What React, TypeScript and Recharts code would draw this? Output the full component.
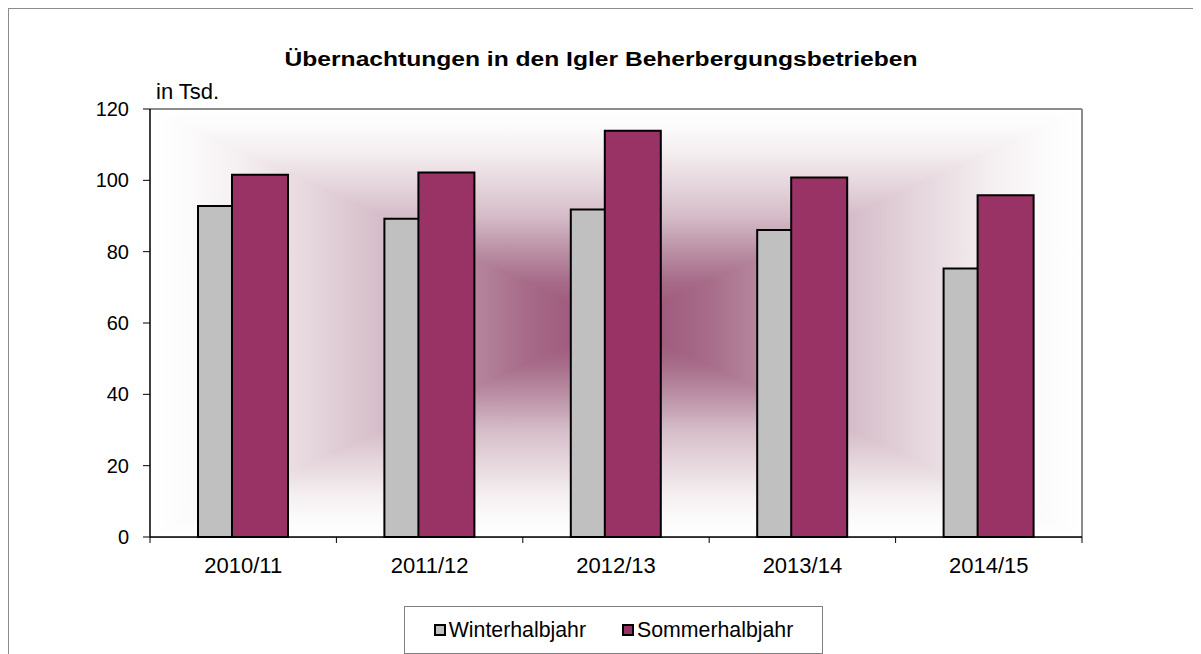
import React from 'react';
import { BarChart, Bar, XAxis, YAxis, CartesianGrid, ReferenceArea, Legend } from 'recharts';

const categories = ['2010/11', '2011/12', '2012/13', '2013/14', '2014/15'];
const winterValues = [92.8, 89.2, 91.8, 86.1, 75.3];
const summerValues = [101.6, 102.2, 113.9, 100.8, 95.8];
const yTicks = [0, 20, 40, 60, 80, 100, 120];
const seriesNames = ['Winterhalbjahr', 'Sommerhalbjahr'];
const seriesColors = ['#c0c0c0', '#993366'];
const titleText = 'Übernachtungen in den Igler Beherbergungsbetrieben';
const unitText = 'in Tsd.';

const data = categories.map((c, i) => ({ period: c, winter: winterValues[i], summer: summerValues[i] }));

const FONT = '"Liberation Sans", Arial, Helvetica, sans-serif';

const stops: [number, string][] = [
  [0, '#ffffff'],
  [0.08, '#fcfbfb'],
  [0.2, '#f4eef0'],
  [0.33, '#e7d9df'],
  [0.5, '#d5bcc8'],
  [0.66, '#ba8fa4'],
  [0.8, '#a76c89'],
  [1, '#9a4a72'],
];

const grad = (id: string, x1: number, y1: number, x2: number, y2: number) => (
  <linearGradient id={id} x1={x1} y1={y1} x2={x2} y2={y2}>
    {stops.map(([o, c]) => (
      <stop key={o} offset={o} stopColor={c} />
    ))}
  </linearGradient>
);

// plot-area backdrop: rectangular "from centre" gradient + plot border + category-boundary ticks
const renderBackdrop = (p: any) => {
  const { x, y, width: w, height: h } = p;
  const cx = x + w / 2;
  const cy = y + h / 2;
  const n = categories.length;
  const e = 1.5;
  return (
    <g>
      <defs>
        {grad('bgT', 0, 0, 0, 1)}
        {grad('bgB', 0, 1, 0, 0)}
        {grad('bgL', 0, 0, 1, 0)}
        {grad('bgR', 1, 0, 0, 0)}
      </defs>
      <polygon points={`${x},${y} ${x},${y + h} ${cx + e},${cy}`} fill="url(#bgL)" />
      <polygon points={`${x + w},${y} ${x + w},${y + h} ${cx - e},${cy}`} fill="url(#bgR)" />
      <polygon points={`${x - e},${y} ${x + w + e},${y} ${cx},${cy + e}`} fill="url(#bgT)" />
      <polygon points={`${x - e},${y + h} ${x + w + e},${y + h} ${cx},${cy - e}`} fill="url(#bgB)" />
      <line x1={x} y1={y} x2={x + w} y2={y} stroke="#8c8c8c" strokeWidth={2} />
      <line x1={x + w} y1={y} x2={x + w} y2={y + h} stroke="#8c8c8c" strokeWidth={2} />
      {Array.from({ length: n + 1 }, (_, i) => (
        <line key={i} x1={x + (i * w) / n} y1={y + h} x2={x + (i * w) / n} y2={y + h + 6} stroke="#000" strokeWidth={1} />
      ))}
    </g>
  );
};

const renderUnit = (p: any) => {
  const vb = p.viewBox || {};
  return (
    <text x={vb.x + vb.width + 6} y={vb.y - 10} fontSize={22} fill="#000" fontFamily={FONT}>
      {unitText}
    </text>
  );
};

const renderLegend = () => (
  <div
    style={{
      boxSizing: 'border-box',
      width: 419,
      height: 48,
      border: '1px solid #808080',
      background: '#fff',
      display: 'flex',
      alignItems: 'center',
      justifyContent: 'center',
      gap: 36,
      fontSize: 21.3,
      fontFamily: FONT,
      color: '#000',
    }}
  >
    {seriesNames.map((n, i) => (
      <span key={n} style={{ display: 'flex', alignItems: 'center' }}>
        <span
          style={{
            display: 'inline-block',
            boxSizing: 'border-box',
            width: 12,
            height: 12,
            border: '2px solid #000',
            background: seriesColors[i],
            marginRight: 3,
          }}
        />
        {n}
      </span>
    ))}
  </div>
);

export default function App() {
  return (
    <div
      style={{
        position: 'relative',
        width: 1192,
        height: 645,
        borderTop: '1px solid #8c8c8c',
        borderLeft: '1px solid #8c8c8c',
        fontFamily: FONT,
        background: '#fff',
      }}
    >
      <BarChart
        width={1192}
        height={645}
        data={data}
        margin={{ top: 100, right: 119, left: 0, bottom: 29 }}
        barGap={-22}
        style={{ fontFamily: FONT }}
      >
        <ReferenceArea y1={0} y2={120} shape={renderBackdrop} ifOverflow="visible" />
        <CartesianGrid vertical={false} stroke="#000" strokeOpacity={0.55} />
        <XAxis
          dataKey="period"
          height={40}
          tickLine={false}
          tickSize={0}
          tickMargin={20}
          axisLine={{ stroke: '#000', strokeWidth: 1.5 }}
          tick={{ fill: '#000', fontSize: 22, fontFamily: FONT }}
          interval={0}
        />
        <YAxis
          domain={[0, 120]}
          ticks={yTicks}
          interval={0}
          width={141}
          tickSize={7}
          tickMargin={14}
          axisLine={{ stroke: '#000', strokeWidth: 1.5 }}
          tickLine={{ stroke: '#000' }}
          tick={{ fill: '#000', fontSize: 20, fontFamily: FONT }}
          label={renderUnit}
        />
        <Bar dataKey="winter" name={seriesNames[0]} fill={seriesColors[0]} stroke="#000" strokeWidth={2} barSize={56} isAnimationActive={false} />
        <Bar dataKey="summer" name={seriesNames[1]} fill={seriesColors[1]} stroke="#000" strokeWidth={2} barSize={56} isAnimationActive={false} />
        <Legend content={renderLegend} wrapperStyle={{ left: 395, top: 597, width: 419, height: 48 }} />
      </BarChart>
      <div
        style={{
          position: 'absolute',
          left: 0,
          top: 39,
          width: 1184,
          textAlign: 'center',
          fontWeight: 'bold',
          fontSize: 20,
          fontFamily: FONT,
          color: '#000',
          transform: 'scaleX(1.23)',
          transformOrigin: '50% 50%',
          pointerEvents: 'none',
        }}
      >
        {titleText}
      </div>
    </div>
  );
}
